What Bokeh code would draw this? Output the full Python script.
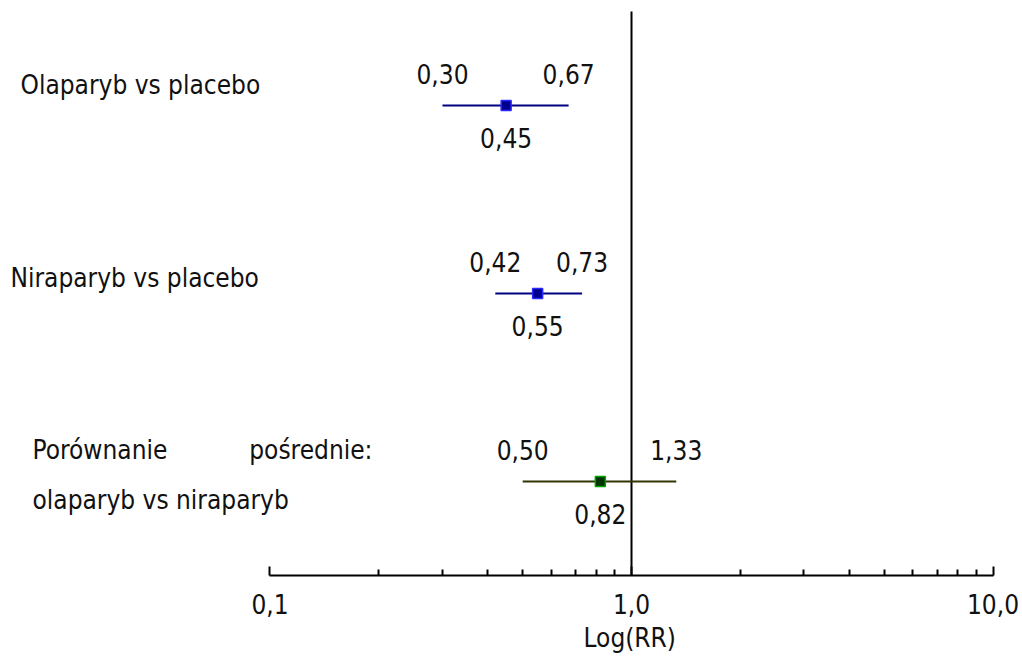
from bokeh.plotting import figure
from bokeh.models import Range1d, FixedTicker, Label, ColumnDataSource, Title
from bokeh.core.properties import value
from bokeh.embed import file_html
from bokeh.resources import INLINE

# Risk ratios with 95% confidence intervals
rr = [0.45, 0.55, 0.82]
ci_low = [0.30, 0.42, 0.50]
ci_high = [0.67, 0.73, 1.33]
rows = [3, 2, 1]

tick_values = [0.1, 1.0, 10.0]
tick_labels = ["0,1", "1,0", "10,0"]
minor_ticks = [m * 0.1 for m in range(2, 10)] + [float(m) for m in range(2, 10)]

line_colors = ["#000080", "#000080", "#333300"]
fill_colors = ["#000090", "#000090", "#003300"]
edge_colors = ["#2a2aff", "#2a2aff", "#00a000"]

FONT = "DejaVu Sans Condensed"
FS = "26px"


def pl(v):
    return f"{v:.2f}".replace(".", ",")


src = ColumnDataSource(dict(
    rr=rr, lo=ci_low, hi=ci_high, row=rows,
    rr_txt=[pl(v) for v in rr], lo_txt=[pl(v) for v in ci_low], hi_txt=[pl(v) for v in ci_high],
    lc=line_colors, fc=fill_colors, ec=edge_colors,
))

p = figure(width=1022, height=662, x_axis_type="log",
           x_range=Range1d(10 ** -1.7455, 10 ** 1.0816), y_range=Range1d(0.5, 3.5585),
           output_backend="svg", toolbar_location=None,
           min_border_left=0, min_border_right=0, min_border_top=0, min_border_bottom=87)
p.outline_line_color = None
p.grid.visible = False
p.yaxis.visible = False
p.background_fill_color = "white"

# reference line at RR = 1
p.segment(x0=[1.0], x1=[1.0], y0=[0.5], y1=[3.5], line_color="black", line_width=2)

# confidence intervals and point estimates
p.segment(x0="lo", x1="hi", y0="row", y1="row", source=src, line_color="lc", line_width=2)
p.scatter(x="rr", y="row", source=src, marker="square", size=10,
          fill_color="fc", line_color="ec", line_width=1.5)

txt = dict(source=src, text_align="center", text_baseline="middle",
           text_font=value(FONT), text_font_size=FS, text_color="#111111")
p.text(x="lo", y="row", text="lo_txt", y_offset=-31, **txt)
p.text(x="hi", y="row", text="hi_txt", y_offset=-31, **txt)
p.text(x="rr", y="row", text="rr_txt", y_offset=33, **txt)

lab = dict(x_units="canvas", text_font=FONT, text_font_size=FS,
           text_baseline="middle", text_color="#111111")
p.add_layout(Label(x=20, y=rows[0], y_offset=20, text="Olaparyb vs placebo", **lab))
p.add_layout(Label(x=10, y=rows[1], y_offset=15, text="Niraparyb vs placebo", **lab))
p.add_layout(Label(x=32, y=rows[2], y_offset=31, text="Porównanie", **lab))
p.add_layout(Label(x=372, y=rows[2], y_offset=31, text="pośrednie:", text_align="right", **lab))
p.add_layout(Label(x=32, y=rows[2], y_offset=-19, text="olaparyb vs niraparyb", **lab))

ax = p.xaxis[0]
ax.bounds = (0.1, 10.0)
ax.ticker = FixedTicker(ticks=tick_values, minor_ticks=minor_ticks)
ax.major_label_overrides = dict(zip(tick_values, tick_labels))
ax.axis_line_width = 2
ax.axis_line_color = "black"
ax.major_tick_in = 9
ax.major_tick_out = 0
ax.minor_tick_in = 6
ax.minor_tick_out = 0
ax.major_tick_line_width = 2
ax.minor_tick_line_width = 2
ax.major_label_standoff = 18
ax.major_label_text_font = FONT
ax.major_label_text_font_size = FS
ax.major_label_text_color = "#111111"

# axis title centred under RR = 1
p.add_layout(Title(text="Log(RR)", align="left", offset=583, standoff=8,
                   text_font=FONT, text_font_size=FS, text_font_style="normal",
                   text_color="#111111"), "below")

open("out.html", "w").write(file_html(p, INLINE))
